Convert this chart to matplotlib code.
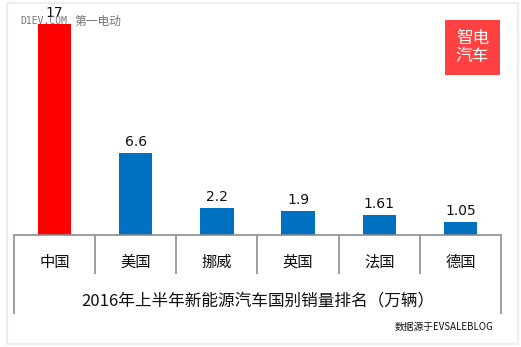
#!/usr/bin/env python3
"""plot.py — 2016 H1 new-energy vehicle sales by country."""

import matplotlib
matplotlib.use("Agg")
import matplotlib.pyplot as plt
from matplotlib.patches import Rectangle
from matplotlib.transforms import blended_transform_factory

W, H, DPI = 521, 347, 100

countries = ["中国", "美国", "挪威", "英国", "法国", "德国"]
sales = [17, 6.6, 2.2, 1.9, 1.61, 1.05]
value_labels = ["17", "6.6", "2.2", "1.9", "1.61", "1.05"]
bar_colors = ["#ff0000", "#0070c0", "#0070c0", "#0070c0", "#0070c0", "#0070c0"]

TITLE = "2016年上半年新能源汽车国别销量排名（万辆）"
SOURCE = "数据源于EVSALEBLOG"
CJK = ["Noto Sans CJK SC", "DejaVu Sans"]
GRID = "#8c8c8c"


def px(x, y):
    """Figure fraction from pixel coords measured from the top-left."""
    return x / W, 1 - y / H


def main() -> None:
    fig = plt.figure(figsize=(W / DPI, H / DPI), dpi=DPI)
    fig.patch.set_facecolor("white")

    # thin light frame round the card
    fig.patches.append(Rectangle(px(7, 344), 511 / W, 341 / H,
                                 transform=fig.transFigure, fill=False,
                                 edgecolor="#eeeeee", linewidth=1.6))

    # plot area: x 14..501 px, baseline at y=235 px, 12.41 px per unit
    left, right, base, top = 14, 501, 235, 14
    x0, y0 = px(left, base)
    ax = fig.add_axes([x0, y0, (right - left) / W, (base - top) / H])
    scale = 211 / 17
    ax.set_ylim(0, (base - top) / scale)
    ax.set_xlim(-0.5, len(countries) - 0.5)

    idx = range(len(countries))
    ax.bar(idx, sales, width=0.41, color=bar_colors, zorder=2)
    for i, (v, lab) in enumerate(zip(sales, value_labels)):
        ax.annotate(lab, (i, v), xytext=(0, 3), textcoords="offset points",
                    ha="center", va="bottom", fontsize=10, color="#111111",
                    family=["DejaVu Sans"], zorder=4, annotation_clip=False)

    for s in ("top", "right", "left"):
        ax.spines[s].set_visible(False)
    ax.spines["bottom"].set_color(GRID)
    ax.spines["bottom"].set_linewidth(1.2)
    ax.set_xticks([])
    ax.set_yticks([])
    ax.patch.set_alpha(0)

    # category table under the axis
    cat_h = (274 - base) / (base - top)
    full_h = (314 - base) / (base - top)
    tr = blended_transform_factory(ax.transData, ax.transAxes)
    for b in [i - 0.5 for i in range(len(countries) + 1)]:
        depth = full_h if b in (-0.5, len(countries) - 0.5) else cat_h
        ax.plot([b, b], [0, -depth], transform=tr, color=GRID, lw=1.2,
                clip_on=False, solid_capstyle="butt")
    for i, name in enumerate(countries):
        ax.text(i, -(262 - base) / (base - top), name, transform=tr,
                ha="center", va="center", fontsize=11, family=CJK,
                color="#111111")
    ax.text(2.5, -(301 - base) / (base - top), TITLE, transform=tr,
            ha="center", va="center", fontsize=12, family=CJK,
            color="#111111")

    fig.text(*px(493, 327), SOURCE, ha="right", va="center", fontsize=7,
             family=CJK, color="#111111")

    # site watermark
    fig.text(*px(20, 21), "D1EV.COM", ha="left", va="center", fontsize=7,
             family="DejaVu Sans Mono", color="#777777", zorder=5)
    fig.text(*px(74, 21), "第一电动", ha="left", va="center", fontsize=8.5,
             family=CJK, color="#777777", zorder=5)

    # red badge
    fig.patches.append(Rectangle(px(445, 75), 55 / W, 55 / H,
                                 transform=fig.transFigure,
                                 facecolor="#ff4141", edgecolor="none"))
    fig.text(*px(472.5, 47.5), "智电\n汽车", ha="center", va="center",
             fontsize=12, family=CJK, color="white", linespacing=1.1)

    fig.savefig("out.png", dpi=DPI)
    print("Wrote out.png")


if __name__ == "__main__":
    main()
